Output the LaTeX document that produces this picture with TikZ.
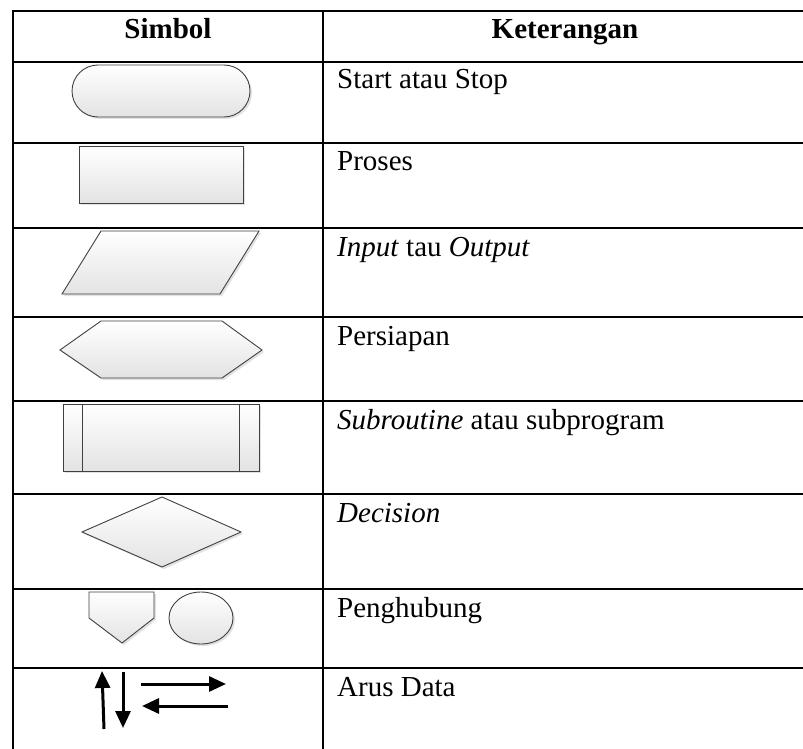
\documentclass[tikz,border=0pt]{standalone}
\usepackage{fontspec}
\setmainfont{Liberation Serif}
\usetikzlibrary{arrows.meta,shadows}
\begin{document}
\begin{tikzpicture}[x=1pt,y=-1pt,
  grid/.style={line width=2pt,black},
  sym/.style={draw=black!75,line width=0.9pt,top color=white,bottom color=black!11,
    drop shadow={shadow xshift=2pt,shadow yshift=-2pt,opacity=0.25,fill=black!45}},
  txt/.style={anchor=base west,inner sep=0pt,font=\fontsize{29}{34}\selectfont},
  hdr/.style={anchor=base,inner sep=0pt,font=\fontsize{29}{34}\selectfont\bfseries},
  flow/.style={line width=3pt,-{Triangle[length=17pt,width=15pt]}}]
\useasboundingbox (0,0) rectangle (803,749);
% grid
\draw[grid] (13,11) -- (803,11);
\foreach \yy in {62,143,228,317,401,494,589,668}{\draw[grid] (13,\yy) -- (803,\yy);}
\draw[grid] (13,10) -- (13,749);
\draw[grid] (323,10) -- (323,749);
% headers
\node[hdr] (h1) at (168,39) {Simbol};
\node[hdr] (h2) at (565,39) {Keterangan};
% descriptions
\node[txt] (t1) at (337,89) {Start atau Stop};
\node[txt] (t2) at (337,170) {Proses};
\node[txt] (t3) at (337,256) {\textit{Input} tau \textit{Output}};
\node[txt] (t4) at (337,345) {Persiapan};
\node[txt] (t5) at (337,429) {\textit{Subroutine} atau subprogram};
\node[txt] (t6) at (337,522) {\textit{Decision}};
\node[txt] (t7) at (337,617) {Penghubung};
\node[txt] (t8) at (337,696) {Arus Data};
% symbols
\path[sym,rounded corners=26pt] (72,65) rectangle (250,117);
\path[sym] (79,146) rectangle (243,203);
\path[sym] (101,231) -- (259,231) -- (220,294) -- (62,294) -- cycle;
\path[sym] (60,350) -- (101,321) -- (222,321) -- (262,350) -- (222,378) -- (101,378) -- cycle;
\path[sym] (63,404) rectangle (259,471);
\draw[draw=black!75,line width=0.9pt] (82,404) -- (82,471) (239,404) -- (239,471);
\path[sym] (82,532) -- (162,497) -- (241,532) -- (162,567) -- cycle;
\path[sym] (89,592) -- (154,592) -- (154,618) -- (122,643) -- (89,618) -- cycle;
\path[sym] (201,618) ellipse [x radius=32pt,y radius=26pt];
% flow arrows
\coordinate (u1) at (104,729); \coordinate (u2) at (102,671);
\coordinate (d1) at (123,672); \coordinate (d2) at (123,728);
\coordinate (r1) at (141,684); \coordinate (r2) at (226,684);
\coordinate (l1) at (228,706); \coordinate (l2) at (142,706);
\draw[flow] (u1) -- (u2);
\draw[flow] (d1) -- (d2);
\draw[flow] (r1) -- (r2);
\draw[flow] (l1) -- (l2);
\end{tikzpicture}
\end{document}
